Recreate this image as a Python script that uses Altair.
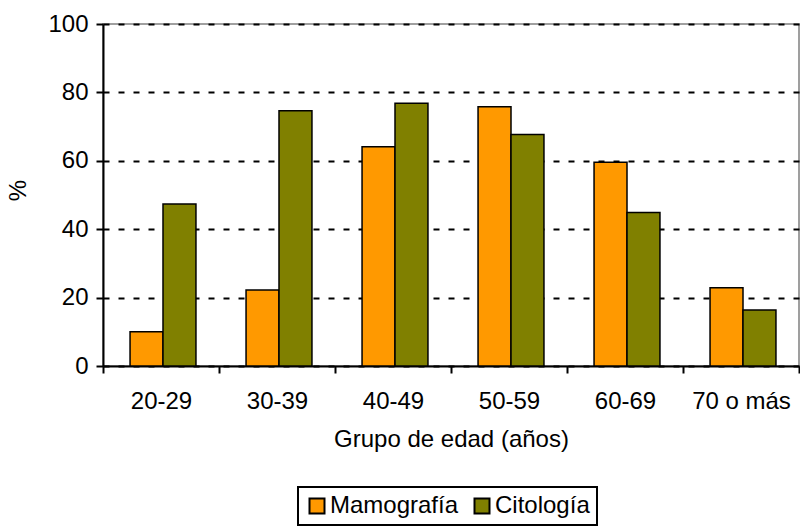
import altair as alt
import pandas as pd

# Grupos de edad y porcentaje de mujeres con cada prueba
grupos = ["20-29", "30-39", "40-49", "50-59", "60-69", "70 o más"]
mamografia = [10.0, 22.2, 64.1, 75.8, 59.6, 22.9]
citologia = [47.4, 74.6, 76.8, 67.7, 44.9, 16.4]
series = ["Mamografía", "Citología"]
colores = ["#FF9900", "#808000"]

rows = []
for g, m, c in zip(grupos, mamografia, citologia):
    rows.append({"grupo": g, "prueba": series[0], "valor": m})
    rows.append({"grupo": g, "prueba": series[1], "valor": c})
df = pd.DataFrame(rows)

FONT = "Liberation Sans"
FS = 24

chart = (
    alt.Chart(df)
    .mark_bar(stroke="black", strokeWidth=1.5)
    .encode(
        x=alt.X(
            "grupo:N",
            sort=grupos,
            scale=alt.Scale(paddingInner=0, paddingOuter=0),
            axis=alt.Axis(
                title="Grupo de edad (años)",
                labelAngle=0,
                tickBand="extent",
                tickSize=7,
                tickWidth=2,
                tickColor="black",
                domainColor="black",
                domainWidth=2,
                labelPadding=16,
                titlePadding=14,
                grid=False,
            ),
        ),
        # each pair of bars fills the middle of its group, leaving a gap on both sides
        xOffset=alt.XOffset(
            "prueba:N",
            sort=series,
            scale=alt.Scale(paddingInner=0, paddingOuter=0.76, align=0.54),
        ),
        y=alt.Y(
            "valor:Q",
            scale=alt.Scale(domain=[0, 100], nice=False),
            axis=alt.Axis(
                title="%",
                values=[0, 20, 40, 60, 80, 100],
                tickSize=7,
                tickWidth=2,
                tickColor="black",
                domainColor="black",
                domainWidth=2,
                labelPadding=8,
                grid=True,
                gridColor="black",
                gridWidth=2,
                gridDash=[6, 9],
                titleAngle=-90,
                titleX=-85,
                titleY=166,
                titleAlign="center",
                titleBaseline="middle",
            ),
        ),
        color=alt.Color(
            "prueba:N",
            sort=series,
            scale=alt.Scale(domain=series, range=colores),
            legend=alt.Legend(
                title=None,
                orient="none",
                direction="horizontal",
                legendX=195,
                legendY=463,
                symbolType="square",
                symbolSize=225,
                symbolStrokeColor="black",
                symbolStrokeWidth=2,
                symbolOpacity=1,
                strokeColor="black",
                padding=7,
                columnPadding=11,
                labelOffset=1,
                labelFontSize=FS,
                labelFont=FONT,
                labelColor="black",
            ),
        ),
    )
    .properties(
        width=696,
        height=342,
        autosize=alt.AutoSizeParams(type="none"),
        padding={"left": 103, "top": 24, "right": 1, "bottom": 160},
    )
    .configure(background="white")
    .configure_view(stroke="#808080", strokeWidth=1.5)
    .configure_legend(strokeWidth=2)
    .configure_axis(
        labelFont=FONT,
        titleFont=FONT,
        labelFontSize=FS,
        titleFontSize=FS,
        labelColor="black",
        titleColor="black",
        titleFontWeight="normal",
    )
)

chart.save("out.html", embed_options={"renderer": "svg", "actions": False})
